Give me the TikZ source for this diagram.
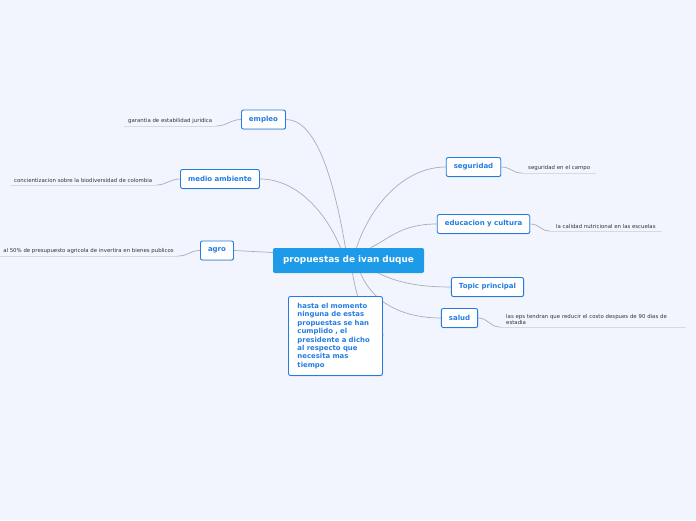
\documentclass[tikz,border=0pt]{standalone}
\usepackage{fontspec}
\setmainfont{DejaVu Sans}
\usepackage{tikz}
\usetikzlibrary{shadows, positioning, calc}

\definecolor{bgblue}{RGB}{242,245,253}
\definecolor{hubblue}{RGB}{30,155,232}
\definecolor{topicblue}{RGB}{35,125,225}
\definecolor{linegray}{RGB}{170,172,185}

\begin{document}
\begin{tikzpicture}[x=1pt, y=-1pt,
    hub/.style={rectangle, rounded corners=2pt, fill=hubblue, text=white, minimum width=151pt, minimum height=25pt, font=\fontsize{8.9}{10}\selectfont\bfseries},
    topic/.style={rectangle, rounded corners=2pt, draw=topicblue, line width=0.9pt, fill=white, text=topicblue, minimum height=19pt, inner xsep=7.5pt, font=\fontsize{7}{8}\selectfont\bfseries, drop shadow={shadow xshift=0.6pt, shadow yshift=-0.9pt, opacity=0.25}},
    note/.style={topic, align=left, text width=76pt, inner xsep=9pt, inner ysep=6pt, minimum height=79pt, font=\fontsize{6.9}{8.4}\selectfont\bfseries},
    leaf/.style={inner xsep=4pt, inner ysep=2.5pt, text=black!80, font=\fontsize{5.4}{6.2}\selectfont},
    link/.style={draw=linegray, line width=0.7pt},
    under/.style={draw=black!15, line width=0.9pt}
]
\fill[bgblue] (0,0) rectangle (696,520);
\useasboundingbox (0,0) rectangle (696,520);

\node[hub] (hub) at (348.5,260.5) {propuestas de ivan duque};

% main branches
\node[topic] (empleo) at (263.5,119.5) {empleo};
\node[topic] (medio) at (220,179) {medio ambiente};
\node[topic] (agro) at (217,250.5) {agro};
\node[topic] (seguridad) at (473.5,167) {seguridad};
\node[topic] (educacion) at (483.5,224) {educacion y cultura};
\node[topic] (principal) at (487.5,287) {Topic principal};
\node[topic] (salud) at (459.5,318) {salud};

% leaves
\node[leaf, anchor=south west] (garantia) at (124,126) {garantia de estabilidad juridica};
\node[leaf, anchor=south west] (concien) at (10,185) {concientizacion sobre la biodiversidad de colombia};
\node[leaf, anchor=south east] (presup) at (178,256) {al 50\% de presupuesto agricola de invertira en bienes publicos};
\node[leaf, anchor=south west, inner xsep=6pt] (campo) at (522,173) {seguridad en el campo};
\node[leaf, anchor=south west, inner xsep=6pt] (calidad) at (550,231) {la calidad nutricional en las escuelas};
\node[leaf, anchor=south west, inner xsep=6pt, text width=174pt, align=left] (eps) at (500,327) {las eps tendran que reducir el costo despues de 90 dias de\\estadia};

\draw[under] (garantia.south west) -- (garantia.south east);
\draw[under] (concien.south west) -- (concien.south east);
\draw[under] (presup.south west) -- (presup.south east);
\draw[under] (campo.south west) -- (campo.south east);
\draw[under] (calidad.south west) -- (calidad.south east);
\draw[under] (eps.south west) -- (eps.south east);

\draw[link] (garantia.south east) .. controls +(10,0) and +(-10,0) .. (empleo.west);
\draw[link] (concien.south east) .. controls +(10,0) and +(-10,0) .. (medio.west);
\draw[link] (presup.south east) .. controls +(10,0) and +(-10,0) .. (agro.west);
\draw[link] (seguridad.east) .. controls +(10,0) and +(-10,0) .. (campo.south west);
\draw[link] (educacion.east) .. controls +(10,0) and +(-10,0) .. (calidad.south west);
\draw[link] (salud.east) .. controls +(10,0) and +(-10,0) .. (eps.south west);

% links from the centre
\draw[link] (empleo.east) .. controls +(30,0) and +(-12,-70) .. ([xshift=-3pt]hub.north);
\draw[link] (medio.east) .. controls +(40,0) and +(-12,-30) .. ([xshift=-8pt]hub.north);
\draw[link] (agro.east) -- ([yshift=8pt]hub.west);
\draw[link] (seguridad.west) .. controls +(-40,0) and +(15,-45) .. ([xshift=8pt]hub.north);
\draw[link] (educacion.west) .. controls +(-35,0) and +(20,-10) .. ([xshift=22pt]hub.north);
\draw[link] ([xshift=30pt]hub.south) .. controls +(20,10) and +(-30,0) .. (principal.west);
\draw[link] ([xshift=12pt]hub.south) .. controls +(15,35) and +(-30,0) .. (salud.west);

\coordinate (noteend) at (384,335);
\draw[link] ([xshift=4pt]hub.south) .. controls +(5,30) and +(-15,0) .. (noteend);
\node[note, anchor=north west] (nota) at (288,296) {hasta el momento\\ninguna de estas\\propuestas se han\\cumplido , el\\presidente a dicho\\al respecto que\\necesita mas\\tiempo};
\end{tikzpicture}
\end{document}
